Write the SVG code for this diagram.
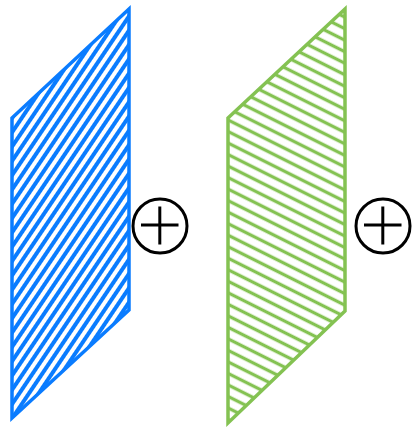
<svg xmlns="http://www.w3.org/2000/svg" width="414" height="428" viewBox="0 0 414 428">
<style>
.blue{stroke:#0a7cff;stroke-width:3.5;fill:none;stroke-linejoin:miter}
.green{stroke:#84c252;stroke-width:3.5;fill:none;stroke-linejoin:miter}
.sym{stroke:#000;stroke-width:3;fill:none}
</style>
<defs>
<pattern id="hb" patternUnits="userSpaceOnUse" width="20" height="8" patternTransform="rotate(-56)">
<rect x="0" y="2" width="20" height="4" fill="#0a7cff"/>
</pattern>
<pattern id="hg" patternUnits="userSpaceOnUse" width="20" height="10.3" patternTransform="rotate(26.6)">
<rect x="0" y="3.5" width="20" height="3.3" fill="#84c252"/>
</pattern>
</defs>
<g id="planeBlue">
<polygon points="12,118 129,9 129,310 12,418" fill="url(#hb)"/>
<polygon class="blue" points="12,118 129,9 129,310 12,418"/>
</g>
<g id="plus1" class="sym">
<circle cx="160" cy="226" r="27"/>
<line x1="141" y1="225" x2="178.5" y2="225"/>
<line x1="159.8" y1="206.5" x2="159.8" y2="244.5"/>
</g>
<g id="planeGreen">
<polygon points="228,118 345,9 345,311 228,423" fill="url(#hg)"/>
<polygon class="green" points="228,118 345,9 345,311 228,423"/>
</g>
<g id="plus2" class="sym">
<circle cx="383" cy="226" r="27"/>
<line x1="364" y1="225" x2="401.5" y2="225"/>
<line x1="382.8" y1="206.5" x2="382.8" y2="244.5"/>
</g>
<g id="connectors"/>
</svg>
